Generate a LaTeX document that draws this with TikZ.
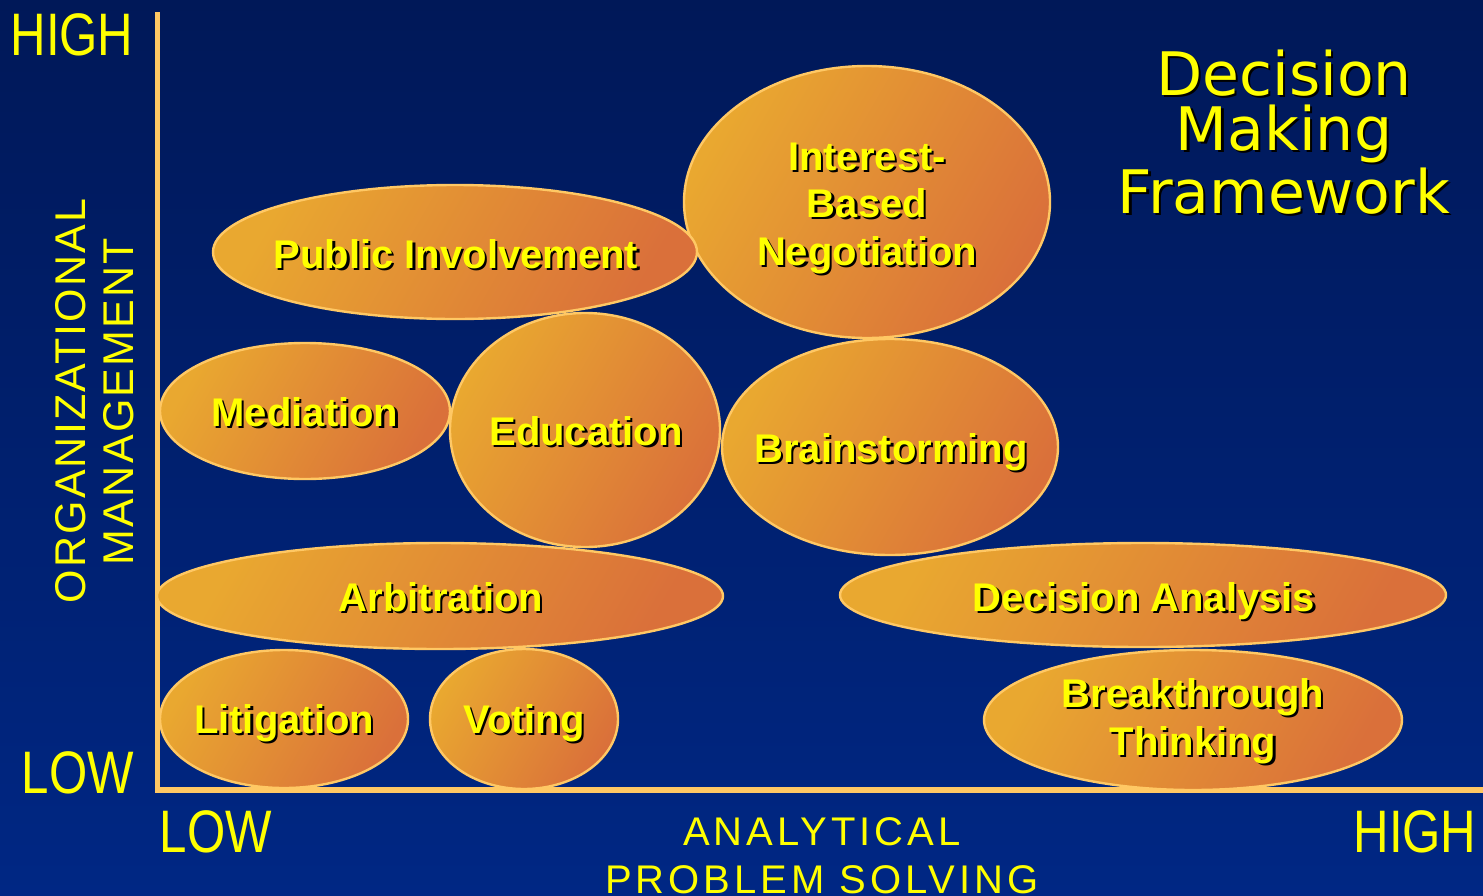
\documentclass[tikz,border=0pt]{standalone}
\usepackage{fontspec}
\setmainfont{Liberation Sans}
\newfontfamily\titlefont{DejaVu Sans}
\newfontfamily\xaxisfont[LetterSpace=10]{Liberation Sans}
\newfontfamily\yaxisfont[LetterSpace=5]{Liberation Sans}
\usetikzlibrary{shapes.geometric}
\definecolor{bgtop}{RGB}{0,24,88}
\definecolor{bgbot}{RGB}{0,39,132}
\definecolor{bubA}{RGB}{233,168,48}
\definecolor{bubB}{RGB}{218,112,58}
\definecolor{rim}{RGB}{255,200,100}
\definecolor{lab}{RGB}{255,255,0}
% yellow text with a black drop shadow
\newcommand{\shd}[1]{\leavevmode\rlap{\hspace{1.1pt}\raisebox{-1.1pt}{\color{black}#1}}#1}
\newcommand{\cond}[1]{\scalebox{0.82}[1]{#1}}

\begin{document}
\begin{tikzpicture}[x=0.5pt, y=-0.5pt,
      bubble/.style = {shape=ellipse, draw=rim, line width=1.2pt, inner sep=0pt,
        top color=bubA, bottom color=bubB, shading angle=60
      },
      btxt/.style = {text=lab, anchor=base, inner sep=0pt, align=center,
        font=\bfseries\fontsize{20}{23.75}\selectfont
      },
      ends/.style = {text=lab, anchor=base, inner sep=0pt,
        font=\fontsize{30}{30}\selectfont},
      xlab/.style = {text=lab, anchor=base, inner sep=0pt,
        font=\xaxisfont\fontsize{20}{24}\selectfont},
      ylab/.style = {text=lab, anchor=base, inner sep=0pt, rotate=90,
        font=\yaxisfont\fontsize{21.5}{24}\selectfont},
      title/.style = {text=lab, anchor=base, inner sep=0pt, align=center,
        font=\titlefont\fontsize{30}{27.5}\selectfont},
      axisline/.style = {draw=rim, line width=2.8pt}
    ]
    \useasboundingbox (0,0) rectangle (1483,895);
    \clip (0,0) rectangle (1483,895);
    \shade[top color=bgtop, bottom color=bgbot] (0,0) rectangle (1483,895);

    %ejes
    \coordinate (ytop) at (157.5,12);
    \coordinate (orig) at (157.5,790);
    \coordinate (xend) at (1483,790);
    \draw[axisline] (ytop) -- (orig) -- (xend);

    %burbujas
    \node[bubble, minimum width=183pt, minimum height=136pt] (ibn) at (867,202) {};
    \node[bubble, minimum width=242pt, minimum height=67pt] (pub) at (455,252) {};
    \node[bubble, minimum width=145pt, minimum height=68pt] (med) at (305,411) {};
    \node[bubble, minimum width=135pt, minimum height=117pt] (edu) at (585,430) {};
    \node[bubble, minimum width=168pt, minimum height=108pt] (brain) at (890,447) {};
    \node[bubble, minimum width=283pt, minimum height=53pt] (arb) at (440,596) {};
    \node[bubble, minimum width=303pt, minimum height=52pt] (dec) at (1143,595) {};
    \node[bubble, minimum width=124pt, minimum height=69pt] (lit) at (284,719) {};
    \node[bubble, minimum width=94pt, minimum height=70pt] (vote) at (524,719) {};
    \node[bubble, minimum width=209pt, minimum height=70pt] (brk) at (1193,720) {};

    %textos de las burbujas
    \node[btxt] (ibntxt) at (867,265) {\shd{Interest-}\\\shd{Based}\\\shd{Negotiation}};
    \node[btxt] (pubtxt) at (456,268) {\shd{Public Involvement}};
    \node[btxt] (medtxt) at (305,426) {\shd{Mediation}};
    \node[btxt] (edutxt) at (586,445) {\shd{Education}};
    \node[btxt] (braintxt) at (891,462) {\shd{Brainstorming}};
    \node[btxt] (arbtxt) at (441,611) {\shd{Arbitration}};
    \node[btxt] (dectxt) at (1144,611) {\shd{Decision Analysis}};
    \node[btxt] (littxt) at (284,733) {\shd{Litigation}};
    \node[btxt] (votetxt) at (524,733) {\shd{Voting}};
    \node[btxt] (brktxt) at (1193,755) {\shd{Breakthrough}\\\shd{Thinking}};

    %titulo
    \node[title] (ttl) at (1284,213) {\shd{Decision}\\\shd{Making}\\\shd{Framework}};

    %rotulos de los ejes
    \node[ends] (yhigh) at (72,55) {\cond{HIGH}};
    \node[ends] (ylow) at (78,793) {\cond{LOW}};
    \node[ends] (xlow) at (216,852) {\cond{LOW}};
    \node[ends] (xhigh) at (1415,852) {\cond{HIGH}};
    \node[xlab] (xname1) at (822,845) {ANALYTICAL};
    \node[xlab] (xname2) at (822,893) {PROBLEM SOLVING};
    \node[ylab] (yname1) at (85,401) {ORGANIZATIONAL};
    \node[ylab] (yname2) at (133,402) {MANAGEMENT};
\end{tikzpicture}
\end{document}
